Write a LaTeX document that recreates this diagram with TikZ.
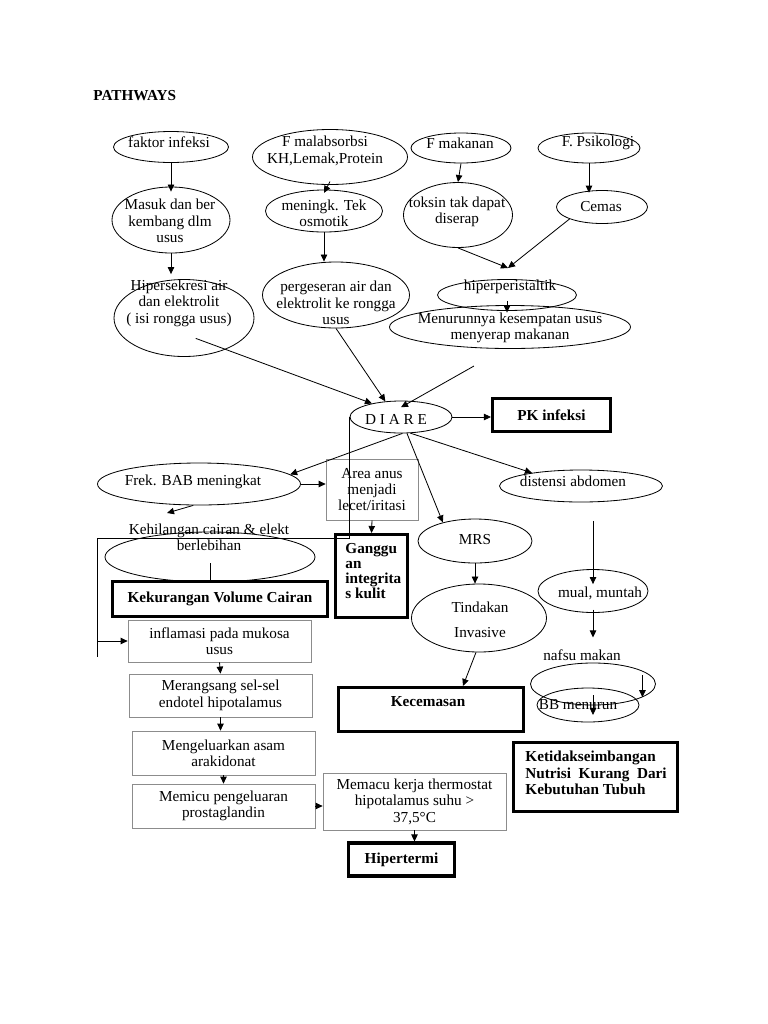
\documentclass[tikz,border=0pt]{standalone}
\usepackage{fontspec}
\setmainfont{Liberation Serif}
\usepackage{tikz}
\usetikzlibrary{calc,arrows.meta,shapes.geometric}

\tikzset{
  ell/.style 2 args={draw, ellipse, line width=0.7pt, minimum width=#1*0.03cm, minimum height=#2*0.03cm, inner sep=0pt},
  txt/.style={align=center, inner sep=0pt},
  gbox/.style 2 args={draw=black!45, line width=0.6pt, rectangle, align=center, minimum width=#1*0.03cm, minimum height=#2*0.03cm, inner sep=0pt},
  dbox/.style 2 args={draw, line width=2.6pt, rectangle, align=center, font=\fontsize{13}{14}\selectfont\bfseries, minimum width=#1*0.03cm, minimum height=#2*0.03cm, inner sep=0pt},
  arr/.style={-{Triangle[length=6pt,width=5.5pt]}, line width=0.7pt},
}

\begin{document}
\begin{tikzpicture}[x=0.03cm, y=-0.03cm, font=\fontsize{13}{14}\selectfont, line width=0.7pt]
\fill[white] (0,0) rectangle (768,1024);
\useasboundingbox (0,0) rectangle (768,1024);

\node[txt, anchor=west, font=\fontsize{13}{14}\selectfont\bfseries] (title) at (93,96) {PATHWAYS};

% causes
\node[ell={115}{31}] (fakinf) at (171,147) {};
\node[txt] (fakinf-t) at (169,142) {faktor infeksi};
\node[ell={155}{55}] (malab) at (330,157) {};
\node[txt] (malab-t) at (325,151) {F malabsorbsi\\KH,Lemak,Protein};
\node[ell={100}{30}] (fmakan) at (461,148) {};
\node[txt] (fmakan-t) at (460,143) {F makanan};
\node[ell={102}{30}] (fpsi) at (589,148) {};
\node[txt] (fpsi-t) at (598,143) {F. Psikologi};

\node[ell={118}{66}] (masuk) at (171,220) {};
\node[txt] (masuk-t) at (170,221) {Masuk dan ber\\kembang dlm\\usus};
\node[ell={117}{42}] (mening) at (324,211) {};
\node[txt] (mening-t) at (324,213) {meningk. Tek\\osmotik};
\node[ell={109}{65}] (toksin) at (458,215) {};
\node[txt] (toksin-t) at (457,212) {toksin tak dapat\\diserap};
\node[ell={91}{33}] (cemas) at (602,207) {};
\node[txt] (cemas-t) at (601,207) {Cemas};

\node[ell={140}{77}] (hiper) at (184,318) {};
\node[txt] (hiper-t) at (179,303) {Hipersekresi air\\dan elektrolit\\( isi rongga usus)};
\node[ell={147}{66}] (perg) at (336,295) {};
\node[txt] (perg-t) at (336,303) {pergeseran air dan\\elektrolit ke rongga\\usus};
\node[ell={139}{31}] (hperi) at (507,295) {};
\node[txt] (hperi-t) at (510,287) {hiperperistaltik};
\node[ell={241}{43}] (menur) at (510,327) {};
\node[txt] (menur-t) at (510,328) {Menurunnya kesempatan usus\\menyerap makanan};

\draw[arr] (fakinf.south) -- ([yshift=-0.15cm]masuk.north);
\draw[arr] (masuk.south) -- ([yshift=0.15cm]masuk.south |- hiper.north);
\draw[arr] ([yshift=0.1cm]malab.south) -- ([yshift=-0.1cm]mening.north);
\draw[arr] (mening.south) -- (mening.south |- perg.north);
\draw[arr] (fmakan.south) -- (toksin.north);
\draw[arr] (fpsi.south) -- ([yshift=-0.08cm]fpsi.south |- cemas.north);
\coordinate (meet) at (508,268);
\draw[arr] (toksin.south) -- (meet);
\draw[arr] (cemas.south west) -- (meet);
\draw[arr] ([yshift=0.3cm]hperi.south) -- ([yshift=-0.05cm]hperi.south);

% diare
\node[ell={102}{32}] (diare) at (401,417) {};
\node[txt] (diare-t) at (396,419) {D I A R E};
\node[dbox={118}{33}] (pkinf) at (551.5,415) {PK infeksi};
\coordinate (menurout) at (474,366);
\draw[arr] ($(hiper.center)!0.55!(hiper.-60)$) -- (diare.155);
\draw[arr] (perg.south) -- (diare.135);
\draw[arr] (menurout) -- ([yshift=-0.2cm]diare.north);
\draw[arr] (diare.east) -- (diare.east -| pkinf.west);

\node[ell={203}{42}] (frek) at (199,484) {};
\node[txt] (frek-t) at (193,482) {Frek. BAB meningkat};
\node[gbox={92}{61}] (area) at (372,489.5) {Area anus\\menjadi\\lecet/iritasi};
\node[ell={163}{32}] (diste) at (581,486) {};
\node[txt] (diste-t) at (573,481) {distensi abdomen};
\node[ell={114}{44}] (mrs) at (475,541) {};
\node[txt] (mrs-t) at (475,540) {MRS};

\draw[arr] (diare.-85) -- (frek.6);
\draw[arr] (frek.east) -- (frek.east -| area.west);
\draw[arr] (diare.-70) -- (mrs.150);
\draw[arr] (diare.-60) -- (diste.165);

\node[ell={210}{50}] (kehil) at (210,557) {};
\node[txt] (kehil-t) at (209,537) {Kehilangan cairan \& elekt\\berlebihan};
\coordinate (kehtip) at (167,513);
\draw[arr] (frek.-105) -- (kehtip);
\node[dbox={215}{35}] (kekur) at (220,599) {Kekurangan Volume Cairan};
\draw ([yshift=0.5cm]kekur.north -| kehil.south) -- (kekur.north -| kehil.south);

\node[dbox={72}{83}] (gangg) at (371.5,576) {};
\node[txt, anchor=west, align=left, font=\fontsize{13}{12.8}\selectfont\bfseries] (gangg-t) at (345,571) {Ganggu\\an\\integrita\\s kulit};
\draw[arr] (area.south) -- (gangg.north);

\coordinate (lc) at (97,538);
\coordinate (lb) at (97,657);
\draw (diare.west) |- (lc) -- (lb);

% left column
\node[gbox={183}{42}] (infl) at (219.5,641) {inflamasi pada mukosa\\usus};
\node[gbox={183}{43}] (meran) at (220.5,695.5) {Merangsang sel-sel\\endotel hipotalamus};
\node[gbox={183}{44}] (mengel) at (223.5,753) {Mengeluarkan asam\\arakidonat};
\node[gbox={183}{44}] (memicu) at (223.5,806) {Memicu pengeluaran\\prostaglandin};
\node[gbox={183}{57}] (memacu) at (414.5,801.5) {Memacu kerja thermostat\\hipotalamus suhu >\\37,5°C};
\node[dbox={106}{33}] (hiperm) at (401.5,859.5) {Hipertermi};

\draw[arr] (lc |- infl.west) -- (infl.west);
\draw[arr] (infl.south) -- (meran.north);
\draw[arr] (meran.south) -- (meran.south |- mengel.north);
\draw[arr] (mengel.south) -- (memicu.north);
\draw[arr] (memicu.east) -- (memicu.east -| memacu.west);
\draw[arr] (memacu.south) -- (memacu.south |- hiperm.north);

% right side
\node[ell={135}{68}] (tind) at (479,618) {};
\node[txt] (tind-t) at (480,620) {Tindakan\\[7pt]Invasive};
\node[dbox={185}{44}] (kecem) at (431,709.5) {};
\node[txt, font=\fontsize{13}{14}\selectfont\bfseries] (kecem-t) at (428,702) {Kecemasan};
\draw[arr] (mrs.south) -- (mrs.south |- tind.north);
\draw[arr] (tind.-95) -- ($(kecem.north)!0.34!(kecem.north east)$);

\node[ell={110}{43}] (mual) at (593,591) {};
\node[txt] (mual-t) at (600,593) {mual, muntah};
\node[txt] (nafsu-t) at (582,655) {nafsu makan};
\node[ell={125}{42}] (nafell) at (593,684) {};
\node[ell={102}{34}] (bbell) at (588,705) {};
\node[txt] (bb-t) at (578,705) {BB menurun};
\draw[arr] ([yshift=-0.55cm]diste.south -| mual.north) -- ([yshift=-0.45cm]mual.north);
\draw[arr] ([yshift=0.1cm]mual.south) -- ([yshift=0.35cm]nafsu-t.north -| mual.south);
\draw[arr] ([yshift=0.66cm]nafell.-15) -- (nafell.-15);
\draw[arr] ([yshift=-0.33cm]nafell.center) -- ([yshift=-0.93cm]nafell.center);

\node[dbox={164}{69}] (ketid) at (595.5,777) {};
\node[txt, anchor=west, align=left, font=\fontsize{13}{14}\selectfont\bfseries] (ketid-t) at (525,773) {Ketidakseimbangan\\Nutrisi\ \ Kurang\ \ Dari\\Kebutuhan Tubuh};
\end{tikzpicture}
\end{document}
